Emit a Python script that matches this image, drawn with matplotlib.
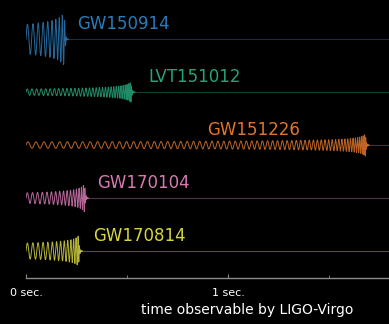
import numpy as np
import matplotlib
matplotlib.use('Agg')
import matplotlib.pyplot as plt

# events, top to bottom
names = ['GW150914', 'LVT151012', 'GW151226', 'GW170104', 'GW170814']
colors = ['#2a7cba', '#25a47a', '#e0772c', '#d77ab4', '#d8d640']
# seconds of signal in band before merger
duration = [0.19, 0.52, 1.68, 0.29, 0.26]
# (apparent) start / end frequency in Hz
f_start = [35, 42, 25, 38, 36]
f_end = [85, 150, 170, 130, 120]
# strain amplitude at start / at merger (row units)
amp_start = [0.28, 0.06, 0.06, 0.10, 0.15]
amp_peak = [0.50, 0.19, 0.21, 0.27, 0.29]

tick_pos = [0, 1]
tick_labels = ['0 sec.', '1 sec.']
xlabel = 'time observable by LIGO-Virgo'

# where each name sits (seconds)
label_x = [0.252, 0.604, 0.896, 0.351, 0.332]

W, H = 389, 324
fig = plt.figure(figsize=(W / 100, H / 100), dpi=100, facecolor='black')
ax = fig.add_axes([26 / W, 1 - 278 / H, 1 - 26 / W, 278 / H])
ax.set_facecolor('black')

xmax = 363 / 202
ax.set_xlim(0, xmax)
ax.set_ylim(-0.51, 4.74)

n = len(names)
for i in range(n):
    row = n - 1 - i
    T = duration[i]
    f0, f1 = f_start[i], f_end[i]
    # newtonian chirp: f ~ tau^(-3/8)
    r = (f0 / f1) ** (8 / 3)
    tau0 = r * T / (1 - r)
    t = np.linspace(0, T, 20000)
    tau = T - t + tau0
    f = f1 * (tau0 / tau) ** (3 / 8)
    phase = 2 * np.pi * np.cumsum(f) * (t[1] - t[0])
    p = np.log(amp_peak[i] / amp_start[i]) / np.log(f1 / f0)
    A = amp_start[i] * (f / f0) ** p
    h = A * np.sin(phase)
    # short ringdown
    tr = np.linspace(0, 0.02, 800)
    hr = amp_peak[i] * np.exp(-tr / 0.004) * np.sin(phase[-1] + 2 * np.pi * 1.4 * f1 * tr)
    tt = np.concatenate([t, T + tr])
    hh = np.concatenate([h, hr])
    ax.plot(tt, row + hh, color=colors[i], lw=0.7, alpha=0.85)
    ax.plot([T, xmax], [row, row], color=colors[i], lw=0.8, alpha=0.4)
    ax.text(label_x[i], row + 0.28, names[i], color=colors[i], fontsize=12,
            va='center', ha='left')

for s in ['top', 'right', 'left']:
    ax.spines[s].set_visible(False)
ax.spines['bottom'].set_color('#8a8a8a')
ax.spines['bottom'].set_linewidth(1.0)
ax.set_yticks([])
ax.set_xticks(tick_pos)
ax.set_xticklabels(tick_labels)
ax.set_xticks([0.5, 1.5], minor=True)
ax.tick_params(axis='x', which='both', direction='in', colors='#8a8a8a',
               labelcolor='white', labelsize=8, length=3, pad=7)
ax.tick_params(axis='x', which='minor', length=2)
ax.set_xlabel(xlabel, color='white', fontsize=10)
ax.xaxis.set_label_coords(0.61, -0.09)

fig.savefig('out.png', dpi=100, facecolor='black')
